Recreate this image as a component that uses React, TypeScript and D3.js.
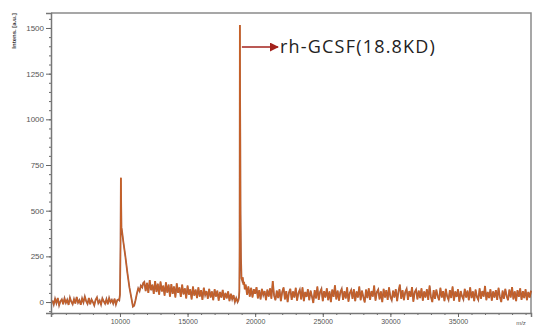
import React, { useEffect, useRef } from 'react'
import * as d3 from 'd3'

// baseline noise before the first peak, one value every 100 Da from 5000
const lowMassStart = 5000
const lowMassNoise = [
  8, -14, 18, -6, 22, -18, 4, 15, -12, 20, -5, 12, -16, 24, 2, -12, 16, -8, 28, -4, 10, -15, 20, -2, 30,
  5, -10, 22, -12, 14, 0, -18, 12, 26, -6, 8, -14, 20, 4, -9, 16, -12, 22, -1, 12, -8, 18, -14, 10, 14,
]

// first peak (~10 kDa) with the undershoot after it
const peak1Mz = [9950, 10000, 10040, 10070, 10090, 10110, 10150, 10250, 10400, 10550, 10700, 10850, 10960, 11050, 11150, 11250, 11350, 11450, 11550, 11650, 11720]
const peak1Int = [10, 40, 300, 680, 520, 410, 390, 330, 250, 160, 80, 20, -25, -20, 10, 45, 75, 60, 90, 80, 104]

// broad hump after the first peak, every 100 Da from 11800
const midStart = 11800
const midNoise = [
  110, 60, 105, 50, 120, 65, 95, 45, 115, 55,
  100, 40, 112, 58, 90, 35, 108, 52, 95, 30,
  98, 45, 85, 25, 102, 50, 80, 28, 95, 42,
  75, 20, 90, 40, 70, 15, 85, 35, 68, 22,
  80, 30, 65, 12, 78, 38, 60, 18, 72, 25,
  58, 10, 70, 30, 62, 8, 55, 25, 66, 12,
  50, 20, 58, 5, 45, 15, 38, 0, 22,
]

// rh-GCSF peak
const peak2Mz = [18700, 18760, 18800, 18830, 18850, 18870, 18885, 18900, 18920, 18950, 18990, 19030, 19080, 19130, 19180, 19230]
const peak2Int = [0, 10, 25, 60, 300, 1516, 1100, 870, 480, 240, 130, 120, 135, 95, 110, 70]

// noise up to the end of the range, every 100 Da from 19300
const highMassStart = 19300
const highMassNoise = [
  95, 40, 85, 30, 78, 25, 70, 45, 82, 20,
  65, 15, 72, 38, 60, 10, 68, 30, 75, 18,
  115, 35, 10, 62, 22, 70, 5, 55, 80, 15,
  60, 0, 52, 72, 12, 58, 25, 78, 8, 50,
  68, 15, 80, 5, 55, 28, 70, 10, 62, 30,
  -5, 65, 20, 85, 12, 55, 72, 5, 60, 25,
  75, 10, 58, 0, 68, 28, 92, 15, 62, 8,
  55, 72, 12, 60, 20, 80, 2, 50, 66, 18,
  70, 5, 58, 25, 85, 10, 62, 28, -2, 68,
  22, 75, 12, 60, 30, 90, 8, 55, 68, 15,
  58, 0, 72, 25, 65, 12, 80, 28, 10, 62,
  25, 70, 5, 58, 95, 18, 65, 10, 55, 72,
  12, 60, 28, 82, 2, 55, 68, 15, 62, 22,
  75, 8, 58, 25, 70, 12, 90, 28, 0, 65,
  18, 68, 32, 10, 78, 25, 60, 5, 72, 30,
  12, 65, 22, 85, 8, 58, 28, 70, 2, 60,
  32, 15, 72, 25, 62, 10, 80, 22, 58, 5,
  68, 28, 12, 75, 18, 60, 30, 88, 10, 55,
  22, 70, 8, 58, 25, 65, 12, 78, 28, 0,
  62, 18, 72, 32, 10, 68, 25, 82, 15, 58,
  5, 65, 28, 75, 12, 60, 22, 70, 10, 55,
  25, 62,
]

const yTicks = [0, 250, 500, 750, 1000, 1250, 1500]
const xTicks = [10000, 15000, 20000, 25000, 30000, 35000]
const annotation = 'rh-GCSF(18.8KD)'

const W = 534
const H = 327
const margin = { top: 13, right: 3, bottom: 14, left: 51 }

const App: React.FC = () => {
  const svgRef = useRef<SVGSVGElement>(null)

  useEffect(() => {
    if (!svgRef.current) return
    const svg = d3.select(svgRef.current)
    svg.selectAll('*').remove()

    const pts: [number, number][] = []
    lowMassNoise.forEach((v, i) => pts.push([lowMassStart + i * 100, v]))
    peak1Mz.forEach((m, i) => pts.push([m, peak1Int[i]]))
    midNoise.forEach((v, i) => pts.push([midStart + i * 100, v]))
    peak2Mz.forEach((m, i) => pts.push([m, peak2Int[i]]))
    highMassNoise.forEach((v, i) => pts.push([highMassStart + i * 100, v]))

    const x = d3.scaleLinear().domain([4900, 40400]).range([margin.left, W - margin.right])
    const y = d3.scaleLinear().domain([-60, 1582]).range([H - margin.bottom, margin.top])

    // frame (top and right)
    svg.append('path')
      .attr('d', `M${margin.left},${margin.top}H${W - margin.right}V${H - margin.bottom}`)
      .attr('fill', 'none')
      .attr('stroke', '#8a8a8a')
      .attr('stroke-width', 1.5)

    const line = d3.line<[number, number]>().x((d) => x(d[0])).y((d) => y(d[1]))

    svg.append('path')
      .datum(pts)
      .attr('d', line)
      .attr('fill', 'none')
      .attr('stroke', '#8f3614')
      .attr('stroke-width', 1.8)
      .attr('stroke-opacity', 0.8)
    svg.append('path')
      .datum(pts)
      .attr('d', line)
      .attr('fill', 'none')
      .attr('stroke', '#d2621f')
      .attr('stroke-width', 0.8)

    // y axis
    const yMinor = svg.append('g')
      .attr('transform', `translate(${margin.left},0)`)
      .call(d3.axisLeft(y).tickValues(d3.range(-50, 1580, 50)).tickSize(2).tickFormat(() => ''))
    yMinor.select('.domain').remove()
    const yAxis = svg.append('g')
      .attr('transform', `translate(${margin.left},0)`)
      .call(d3.axisLeft(y).tickValues(yTicks).tickSize(5).tickPadding(2).tickFormat(d3.format('d')))
    yAxis.select('.domain').attr('stroke', '#777').attr('stroke-width', 1.5)
    yAxis.selectAll('text').attr('fill', '#555').attr('font-size', 8).attr('font-family', 'Liberation Sans, Arial, sans-serif')

    // x axis
    const xMinor = svg.append('g')
      .attr('transform', `translate(0,${H - margin.bottom})`)
      .call(d3.axisBottom(x).tickValues(d3.range(5000, 40400, 1000)).tickSize(2).tickFormat(() => ''))
    xMinor.select('.domain').remove()
    const xAxis = svg.append('g')
      .attr('transform', `translate(0,${H - margin.bottom})`)
      .call(d3.axisBottom(x).tickValues(xTicks).tickSize(4).tickPadding(2).tickFormat(d3.format('d')))
    xAxis.select('.domain').attr('stroke', '#777').attr('stroke-width', 1.5)
    xAxis.selectAll('text').attr('fill', '#555').attr('font-size', 7).attr('font-family', 'Liberation Sans, Arial, sans-serif')
    svg.selectAll('.tick line').attr('stroke', '#666')

    // axis titles
    svg.append('text')
      .attr('transform', 'translate(16,31) rotate(-90)')
      .attr('text-anchor', 'middle')
      .attr('font-size', 6)
      .attr('font-weight', 'bold')
      .attr('font-family', 'Liberation Sans, Arial, sans-serif')
      .attr('fill', '#333')
      .text('Intens. [a.u.]')
    svg.append('text')
      .attr('x', 521)
      .attr('y', 325)
      .attr('text-anchor', 'middle')
      .attr('font-size', 6)
      .attr('font-family', 'Liberation Sans, Arial, sans-serif')
      .attr('fill', '#555')
      .text('m/z')

    // annotation arrow + label
    const defs = svg.append('defs')
    defs.append('marker')
      .attr('id', 'arrow')
      .attr('viewBox', '0 0 10 10')
      .attr('refX', 9)
      .attr('refY', 5)
      .attr('markerWidth', 6)
      .attr('markerHeight', 6)
      .attr('orient', 'auto')
      .append('path')
      .attr('d', 'M0,0L10,5L0,10z')
      .attr('fill', '#a3221c')
    svg.append('line')
      .attr('x1', x(18870) + 2)
      .attr('x2', 278)
      .attr('y1', 47)
      .attr('y2', 47)
      .attr('stroke', '#a3221c')
      .attr('stroke-width', 1.5)
      .attr('marker-end', 'url(#arrow)')
    svg.append('text')
      .attr('x', 280)
      .attr('y', 53)
      .attr('font-size', 18)
      .attr('letter-spacing', 1.2)
      .attr('font-family', 'Open Sans, Liberation Sans, Arial, sans-serif')
      .attr('fill', '#222')
      .text(annotation)
  }, [])

  return (
    <svg
      ref={svgRef}
      width={W}
      height={H}
      style={{ position: 'absolute', left: 0, top: 0, background: '#fff' }}
    />
  )
}

export default App
